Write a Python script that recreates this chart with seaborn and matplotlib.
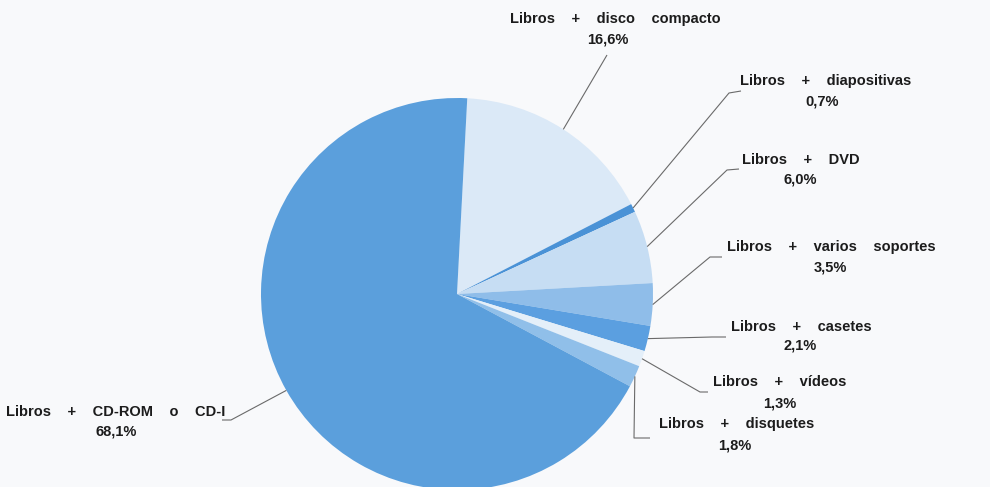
import matplotlib
matplotlib.use("Agg")
import matplotlib.pyplot as plt
import seaborn as sns
import numpy as np

# ---- data ----
categories = ["Libros + disco compacto", "Libros + diapositivas", "Libros + DVD",
              "Libros + varios soportes", "Libros + casetes", "Libros + vídeos",
              "Libros + disquetes", "Libros + CD-ROM o CD-I"]
values = [16.6, 0.7, 6.0, 3.5, 2.1, 1.3, 1.8, 68.1]
value_labels = ["16,6%", "0,7%", "6,0%", "3,5%", "2,1%", "1,3%", "1,8%", "68,1%"]
colors = ["#dbe9f7", "#4a92d6", "#c6ddf3", "#8fbde9", "#5b9fe0", "#e4eff9", "#90bfe9", "#5b9fdc"]

sns.set_theme(style="white")
plt.rcParams['font.family'] = ['Liberation Sans', 'DejaVu Sans']

W, H = 990, 487
CX, CY, R = 457, 294, 196  # pie centre / radius in pixels (layout)
BG = "#f8f9fb"

fig = plt.figure(figsize=(9.9, 4.87), dpi=100, facecolor=BG)
ax = fig.add_axes([0, 0, 1, 1])
ax.set_facecolor(BG)

wedges, _ = ax.pie(values, colors=colors, startangle=87, counterclock=False,
                   radius=1, center=(0, 0), wedgeprops=dict(linewidth=0))
ax.set_xlim(-CX / R, (W - CX) / R)
ax.set_ylim(-(H - CY) / R, CY / R)
ax.set_aspect('auto')
ax.axis('off')


def px(x, y):
    return ((x - CX) / R, (CY - y) / R)


# layout: label centre, percentage centre, leader path (pixels)
layout = [
    dict(t=(615, 19), p=(608, 40), path=[(607, 55)]),
    dict(t=(826, 81), p=(822, 102), path=[(729, 93), (741, 91)]),
    dict(t=(801, 160), p=(800, 180), path=[(727, 170), (739, 169)]),
    dict(t=(831, 247), p=(830, 267), path=[(710, 257), (722, 257)]),
    dict(t=(801, 327), p=(800, 346), path=[(712, 337), (726, 337)]),
    dict(t=(780, 382), p=(780, 403), path=[(700, 392), (708, 392)]),
    dict(t=(737, 424), p=(735, 445), path=[(634, 438), (650, 438)]),
    dict(t=(116, 412), p=(116, 431), path=[(231, 420), (222, 420)]),
]

txt_kw = dict(fontsize=10.5, fontweight='bold', color='#1c1c1c',
              ha='center', va='center')

for w, cat, lab, lay in zip(wedges, categories, value_labels, layout):
    mid = np.deg2rad((w.theta1 + w.theta2) / 2)
    xs = [np.cos(mid)]
    ys = [np.sin(mid)]
    for (qx, qy) in lay['path']:
        dx, dy = px(qx, qy)
        xs.append(dx)
        ys.append(dy)
    ax.plot(xs, ys, color='#6a6a6a', lw=0.8, solid_capstyle='butt', clip_on=False)
    tx, ty = px(*lay['t'])
    ax.text(tx, ty, "    ".join(cat.split(" ")), **txt_kw)
    qx, qy = px(*lay['p'])
    ax.text(qx, qy, lab, **txt_kw)

fig.savefig("out.png", dpi=100, facecolor=BG)
